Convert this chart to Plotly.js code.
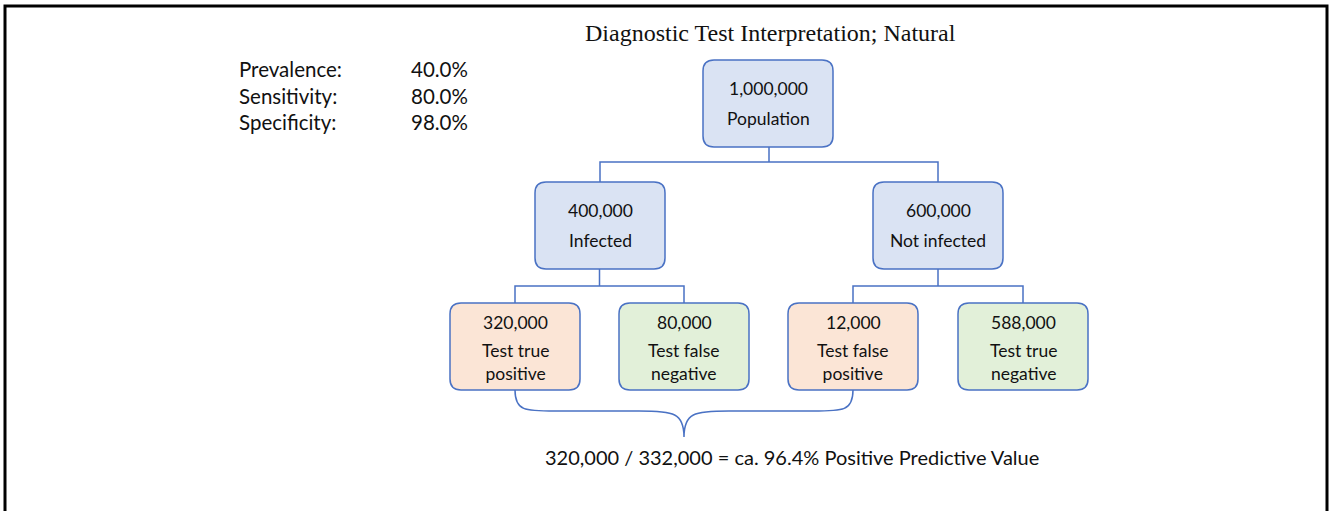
<!DOCTYPE html>
<html>
<head>
<meta charset="utf-8">
<script src="https://cdn.plot.ly/plotly-3.0.1.min.js"></script>
<style>html,body{margin:0;padding:0;background:#fff;}#chart{width:1329px;height:511px;}</style>
</head>
<body>
<div id="chart"></div>
<script>
// ---------- DATA ----------
const chartTitle = "Diagnostic Test Interpretation; Natural";
const paramNames = ["Prevalence:", "Sensitivity:", "Specificity:"];
const paramValues = [0.40, 0.80, 0.98];
const nodeValues = [1000000, 400000, 600000, 320000, 80000, 12000, 588000];
const nodeLabels = ["Population", "Infected", "Not infected", "Test true<br>positive", "Test false<br>negative", "Test false<br>positive", "Test true<br>negative"];
const nodeParents = [-1, 0, 0, 1, 1, 2, 2];
const nodeKinds = ["group", "group", "group", "positive", "negative", "positive", "negative"];
const ppvLabel = "Positive Predictive Value";

// ---------- LAYOUT (pixel-space positions & styles) ----------
const W = 1329, H = 511;
const levelTop = [60, 182, 303];
const levelMid = [null, 162, 286];
const boxW = 130, boxH = 87, rad = 11;
const levelCenters = [[768], [600, 938], [515, 684, 853, 1023]];
const fills = {group: "#dae3f3", positive: "#fbe5d6", negative: "#e2f0d9"};
const lineCol = "#4a72c4";
const textFont = "Lato, 'Noto Sans', sans-serif";
const textCol = "#111";

function levelOf(i){ let l=0, p=nodeParents[i]; while(p>=0){l++; p=nodeParents[p];} return l; }
const levelCount = [0,0,0];
const pos = nodeValues.map((v,i)=>{ const l=levelOf(i); const cx=levelCenters[l][levelCount[l]++]; return {l, cx, top: levelTop[l]}; });

function roundRect(x0,y0,x1,y1,r){
  return `M ${x0+r} ${y0} L ${x1-r} ${y0} Q ${x1} ${y0} ${x1} ${y0+r} L ${x1} ${y1-r} Q ${x1} ${y1} ${x1-r} ${y1} L ${x0+r} ${y1} Q ${x0} ${y1} ${x0} ${y1-r} L ${x0} ${y0+r} Q ${x0} ${y0} ${x0+r} ${y0} Z`;
}
const fmt = v => v.toLocaleString("en-US");

const shapes = [];
const annotations = [];

// frame
shapes.push({type:"rect", xref:"x", yref:"y", x0:5, x1:1327, y0:6, y1:560, line:{color:"#000", width:3}, fillcolor:"rgba(0,0,0,0)"});

// connectors
nodeValues.forEach((v,i)=>{
  const kids = nodeParents.map((p,j)=>p===i?j:-1).filter(j=>j>=0);
  if(!kids.length) return;
  const p = pos[i];
  const mid = levelMid[p.l+1];
  const xs = kids.map(k=>pos[k].cx);
  const ctop = pos[kids[0]].top;
  const pcx = (Math.min(...xs)+Math.max(...xs))/2;
  let path = `M ${pcx} ${p.top+boxH} L ${pcx} ${mid} M ${Math.min(...xs)} ${ctop} L ${Math.min(...xs)} ${mid} L ${Math.max(...xs)} ${mid} L ${Math.max(...xs)} ${ctop}`;
  shapes.push({type:"path", xref:"x", yref:"y", path, line:{color:lineCol, width:1.5}});
});

// boxes + text
nodeValues.forEach((v,i)=>{
  const p = pos[i];
  shapes.push({type:"path", xref:"x", yref:"y", path: roundRect(p.cx-boxW/2, p.top, p.cx+boxW/2, p.top+boxH, rad),
    fillcolor: fills[nodeKinds[i]], line:{color:lineCol, width:1.5}});
  const twoLine = nodeLabels[i].includes("<br>");
  annotations.push({xref:"x", yref:"y", x:p.cx, y:p.top + (twoLine?19:28), text: fmt(v), showarrow:false,
    xanchor:"center", yanchor:"middle", font:{family:textFont, size:17.5, color:textCol}});
  annotations.push({xref:"x", yref:"y", x:p.cx, y:p.top + (twoLine?59:58), text: nodeLabels[i], showarrow:false,
    xanchor:"center", yanchor:"middle", font:{family:textFont, size:17.5, color:textCol}});
});

// brace under positives
const posIdx = nodeKinds.map((k,i)=>k==="positive"?i:-1).filter(i=>i>=0);
const bx0 = pos[posIdx[0]].cx, bx1 = pos[posIdx[posIdx.length-1]].cx;
const bTop = levelTop[2]+boxH, bLow = bTop+21, bTip = bTop+47, bxm = (bx0+bx1)/2;
shapes.push({type:"path", xref:"x", yref:"y",
  path:`M ${bx0} ${bTop} C ${bx0} ${bLow} ${bx0+10} ${bLow} ${bx0+40} ${bLow} L ${bxm-45} ${bLow} C ${bxm-10} ${bLow} ${bxm} ${bLow+2} ${bxm} ${bTip} C ${bxm} ${bLow+2} ${bxm+10} ${bLow} ${bxm+45} ${bLow} L ${bx1-40} ${bLow} C ${bx1-10} ${bLow} ${bx1} ${bLow} ${bx1} ${bTop}`,
  line:{color:lineCol, width:1.5}});

const tp = nodeValues[posIdx[0]], fp = nodeValues[posIdx[1]];
const ppv = tp/(tp+fp);
annotations.push({xref:"x", yref:"y", x:792, y:457, text:`${fmt(tp)} / ${fmt(tp+fp)} = ca. ${(ppv*100).toFixed(1)}% ${ppvLabel}`,
  showarrow:false, xanchor:"center", yanchor:"middle", font:{family:textFont, size:20, color:textCol}});

// parameters
paramNames.forEach((n,i)=>{
  const y = 69 + i*26.5;
  annotations.push({xref:"x", yref:"y", x:237, y, text:n, showarrow:false, xanchor:"left", yanchor:"middle", font:{family:textFont, size:20.5, color:textCol}});
  annotations.push({xref:"x", yref:"y", x:470, y, text:(paramValues[i]*100).toFixed(1)+"%", showarrow:false, xanchor:"right", yanchor:"middle", font:{family:textFont, size:20.5, color:textCol}});
});

// title
annotations.push({xref:"x", yref:"y", x:770, y:33, text:chartTitle, showarrow:false, xanchor:"center", yanchor:"middle",
  font:{family:"'Liberation Serif', 'Times New Roman', serif", size:24, color:"#111"}});

const layout = {
  width: W, height: H,
  margin:{l:0,r:0,t:0,b:0},
  paper_bgcolor:"#fff", plot_bgcolor:"#fff",
  xaxis:{range:[0,W], visible:false, fixedrange:true},
  yaxis:{range:[H,0], visible:false, fixedrange:true},
  showlegend:false,
  shapes, annotations
};
Plotly.newPlot("chart", [{x:[0], y:[0], type:"scatter", mode:"markers", marker:{opacity:0}, hoverinfo:"skip"}], layout, {staticPlot:true, displayModeBar:false});
</script>
</body>
</html>
